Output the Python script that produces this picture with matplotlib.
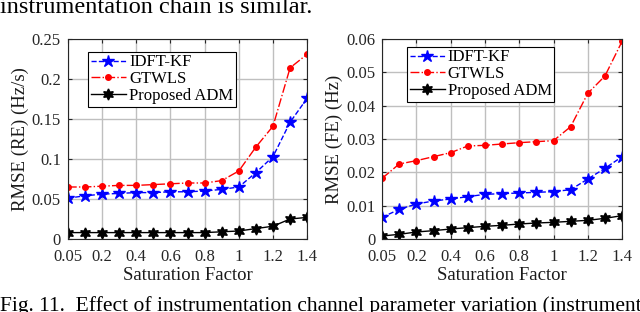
import matplotlib.pyplot as plt
import matplotlib as mpl

mpl.rcParams['font.family'] = ['Liberation Serif', 'DejaVu Serif']

sat = ['0.05', '0.1', '0.2', '0.3', '0.4', '0.5', '0.6', '0.7', '0.8', '0.9', '1', '1.1', '1.2', '1.3', '1.4']
tick_labels = ['0.05', '0.2', '0.4', '0.6', '0.8', '1', '1.2', '1.4']

re_idft = [0.051, 0.054, 0.056, 0.057, 0.058, 0.058, 0.059, 0.059, 0.060, 0.062, 0.065, 0.083, 0.103, 0.146, 0.176]
re_gtwls = [0.065, 0.065, 0.066, 0.067, 0.067, 0.068, 0.069, 0.070, 0.070, 0.073, 0.085, 0.115, 0.141, 0.214, 0.231]
re_adm = [0.008, 0.008, 0.008, 0.008, 0.008, 0.008, 0.008, 0.008, 0.008, 0.009, 0.010, 0.013, 0.016, 0.025, 0.027]

fe_idft = [0.0065, 0.0089, 0.0105, 0.0114, 0.0120, 0.0127, 0.0134, 0.0136, 0.0138, 0.0140, 0.0142, 0.0148, 0.0180, 0.0212, 0.0247]
fe_gtwls = [0.0182, 0.0225, 0.0235, 0.0247, 0.0259, 0.0279, 0.0281, 0.0285, 0.0289, 0.0292, 0.0295, 0.0337, 0.0437, 0.0489, 0.0593]
fe_adm = [0.0009, 0.0014, 0.0021, 0.0025, 0.0030, 0.0034, 0.0038, 0.0041, 0.0045, 0.0048, 0.0050, 0.0053, 0.0056, 0.0062, 0.0070]

x = list(range(len(sat)))
tick_pos = [sat.index(t) for t in tick_labels]
star6 = (6, 1, 0)
gray = '#262626'


def draw(ax, idft, gtwls, adm, ymax, yticks, yticklabels, ylabel, legend_pos):
    ax.plot(x, idft, '--', color='blue', marker='*', markersize=9, lw=1, label='IDFT-KF')
    ax.plot(x, gtwls, '-.', color='red', marker='o', markersize=4, lw=1, label='GTWLS')
    ax.plot(x, adm, '-', color='black', marker=star6, markersize=8, lw=1, label='Proposed ADM')
    ax.set_xlim(0, 14)
    ax.set_ylim(0, ymax)
    ax.set_xticks(tick_pos)
    ax.set_xticklabels(tick_labels)
    ax.set_yticks(yticks)
    ax.set_yticklabels(yticklabels)
    ax.grid(True, color='#bfbfbf', lw=1)
    ax.set_axisbelow(True)
    ax.tick_params(direction='in', labelsize=12, colors=gray, length=3, top=True, right=True)
    ax.tick_params(axis='x', pad=7)
    ax.tick_params(axis='y', pad=5)
    for s in ax.spines.values():
        s.set_color(gray)
    ax.set_xlabel('Saturation Factor', fontsize=13.5, labelpad=2, color='#1a1a1a')
    ax.set_ylabel(ylabel, fontsize=13.5, labelpad=2, color='#1a1a1a')
    leg = ax.legend(loc='upper left', bbox_to_anchor=legend_pos, fontsize=12, frameon=True,
                    fancybox=False, edgecolor='black', framealpha=1, borderpad=0.15,
                    labelspacing=0.05, handlelength=2.1, handletextpad=0.2, borderaxespad=0)
    leg.get_frame().set_linewidth(0.8)


fig = plt.figure(figsize=(6.4, 3.12), dpi=100)
ax1 = fig.add_axes([0.106, 0.234, 0.374, 0.641])
ax2 = fig.add_axes([0.597, 0.234, 0.375, 0.641])

draw(ax1, re_idft, re_gtwls, re_adm, 0.25, [0, 0.05, 0.1, 0.15, 0.2, 0.25],
     ['0', '0.05', '0.1', '0.15', '0.2', '0.25'], 'RMSE (RE) (Hz/s)', (0.085, 0.935))
draw(ax2, fe_idft, fe_gtwls, fe_adm, 0.06, [0, 0.01, 0.02, 0.03, 0.04, 0.05, 0.06],
     ['0', '0.01', '0.02', '0.03', '0.04', '0.05', '0.06'], 'RMSE (FE) (Hz)', (0.104, 0.96))

fig.text(0.0, 0.975, 'instrumentation chain is similar.', fontsize=17.5, va='center', ha='left')
fig.text(0.0, 0.02, 'Fig. 11.  Effect of instrumentation channel parameter variation (instrument',
         fontsize=15.5, va='center', ha='left')

fig.savefig('out.png', dpi=100)
